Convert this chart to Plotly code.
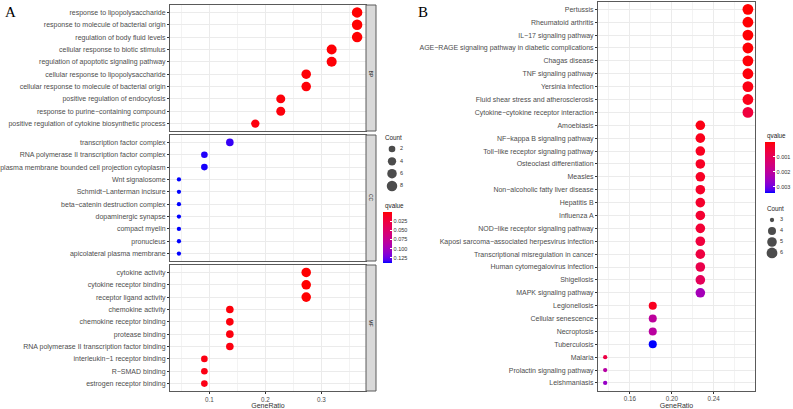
import math
import plotly.graph_objects as go

W, H = 793, 409

# ---------------- Panel A : GO enrichment (facets BP / CC / MF) ----------------
bp_terms = [
    "response to lipopolysaccharide",
    "response to molecule of bacterial origin",
    "regulation of body fluid levels",
    "cellular response to biotic stimulus",
    "regulation of apoptotic signaling pathway",
    "cellular response to lipopolysaccharide",
    "cellular response to molecule of bacterial origin",
    "positive regulation of endocytosis",
    "response to purine\u2212containing compound",
    "positive regulation of cytokine biosynthetic process",
]
bp_ratio = ["8/22", "8/22", "8/22", "7/22", "7/22", "6/22", "6/22", "5/22", "5/22", "4/22"]
bp_q = [0.0002, 0.0003, 0.0010, 0.0015, 0.0020, 0.0020, 0.0025, 0.0030, 0.0035, 0.0040]

cc_terms = [
    "transcription factor complex",
    "RNA polymerase II transcription factor complex",
    "plasma membrane bounded cell projection cytoplasm",
    "Wnt signalosome",
    "Schmidt\u2212Lanterman incisure",
    "beta\u2212catenin destruction complex",
    "dopaminergic synapse",
    "compact myelin",
    "pronucleus",
    "apicolateral plasma membrane",
]
cc_ratio = ["3/22", "2/22", "2/22", "1/22", "1/22", "1/22", "1/22", "1/22", "1/22", "1/22"]
cc_q = [0.134, 0.136, 0.137, 0.139, 0.139, 0.139, 0.139, 0.139, 0.139, 0.139]

mf_terms = [
    "cytokine activity",
    "cytokine receptor binding",
    "receptor ligand activity",
    "chemokine activity",
    "chemokine receptor binding",
    "protease binding",
    "RNA polymerase II transcription factor binding",
    "interleukin\u22121 receptor binding",
    "R\u2212SMAD binding",
    "estrogen receptor binding",
]
mf_ratio = ["6/22", "6/22", "6/22", "3/22", "3/22", "3/22", "3/22", "2/22", "2/22", "2/22"]
mf_q = [0.0005, 0.0006, 0.0008, 0.0030, 0.0035, 0.0040, 0.0045, 0.0050, 0.0055, 0.0060]

facet_labels = ["BP", "CC", "MF"]
a_size_breaks = [2, 4, 6, 8]
a_q_ticks = [0.025, 0.050, 0.075, 0.100, 0.125]
a_x_ticks = [0.1, 0.2, 0.3]
a_x_minor = [0.05, 0.15, 0.25, 0.35]

# ---------------- Panel B : KEGG enrichment ----------------
kegg_terms = [
    "Pertussis",
    "Rheumatoid arthritis",
    "IL\u221217 signaling pathway",
    "AGE\u2212RAGE signaling pathway in diabetic complications",
    "Chagas disease",
    "TNF signaling pathway",
    "Yersinia infection",
    "Fluid shear stress and atherosclerosis",
    "Cytokine\u2212cytokine receptor interaction",
    "Amoebiasis",
    "NF\u2212kappa B signaling pathway",
    "Toll\u2212like receptor signaling pathway",
    "Osteoclast differentiation",
    "Measles",
    "Non\u2212alcoholic fatty liver disease",
    "Hepatitis B",
    "Influenza A",
    "NOD\u2212like receptor signaling pathway",
    "Kaposi sarcoma\u2212associated herpesvirus infection",
    "Transcriptional misregulation in cancer",
    "Human cytomegalovirus infection",
    "Shigellosis",
    "MAPK signaling pathway",
    "Legionellosis",
    "Cellular senescence",
    "Necroptosis",
    "Tuberculosis",
    "Malaria",
    "Prolactin signaling pathway",
    "Leishmaniasis",
]
kegg_ratio = ["6/22"] * 9 + ["5/22"] * 14 + ["4/22"] * 4 + ["3/22"] * 3
kegg_q = [0.00002, 0.00003, 0.00004, 0.00005, 0.00007, 0.00009, 0.00015, 0.00020, 0.00060,
          0.00015, 0.00020, 0.00025, 0.00030, 0.00030, 0.00035, 0.00040, 0.00045, 0.00050,
          0.00060, 0.00065, 0.00080, 0.00100, 0.00240,
          0.00025, 0.00200, 0.00205, 0.00340,
          0.00070, 0.00210, 0.00260]
b_size_breaks = [3, 4, 5, 6]
b_q_ticks = [0.001, 0.002, 0.003]
b_x_ticks = [0.16, 0.20, 0.24]
b_x_minor = [0.14, 0.18, 0.22, 0.26]


# ---------------- helpers ----------------
def px(x):
    return x / W


def py(y):
    return 1 - y / H


def parse(ratios):
    vals, counts = [], []
    for r in ratios:
        n, d = r.split("/")
        vals.append(int(n) / int(d))
        counts.append(int(n))
    return vals, counts


def area_pal(c, cmin, cmax, smin, smax):
    return smin + (smax - smin) * math.sqrt((c - cmin) / (cmax - cmin))


def _lin(c):
    c = c / 255
    return c / 12.92 if c <= 0.04045 else ((c + 0.055) / 1.055) ** 2.4


def _gam(c):
    c = 12.92 * c if c <= 0.0031308 else 1.055 * c ** (1 / 2.4) - 0.055
    return max(0, min(255, round(c * 255)))


def to_lab(rgb):
    r, g, b = [_lin(v) for v in rgb]
    X = (0.4124 * r + 0.3576 * g + 0.1805 * b) / 0.95047
    Y = (0.2126 * r + 0.7152 * g + 0.0722 * b)
    Z = (0.0193 * r + 0.1192 * g + 0.9505 * b) / 1.08883
    f = lambda t: t ** (1 / 3) if t > 0.008856 else 7.787 * t + 16 / 116
    return (116 * f(Y) - 16, 500 * (f(X) - f(Y)), 200 * (f(Y) - f(Z)))


def from_lab(lab):
    L, a, b = lab
    fy = (L + 16) / 116
    fx = fy + a / 500
    fz = fy - b / 200
    finv = lambda t: t ** 3 if t ** 3 > 0.008856 else (t - 16 / 116) / 7.787
    X, Y, Z = finv(fx) * 0.95047, finv(fy), finv(fz) * 1.08883
    r = 3.2406 * X - 1.5372 * Y - 0.4986 * Z
    g = -0.9689 * X + 1.8758 * Y + 0.0415 * Z
    bb = 0.0557 * X - 0.2040 * Y + 1.0570 * Z
    return "rgb(%d,%d,%d)" % (_gam(max(r, 0)), _gam(max(g, 0)), _gam(max(bb, 0)))


lab_blue, lab_red = to_lab((0, 0, 255)), to_lab((255, 0, 0))
colorscale = []
for i in range(21):
    t = i / 20
    lab = tuple(lab_blue[k] + (lab_red[k] - lab_blue[k]) * t for k in range(3))
    colorscale.append([t, from_lab(lab)])

FONT = "Arial, Liberation Sans, sans-serif"
TICKCOL = "#4D4D4D"
GRID = "#EBEBEB"
MINOR = "#F3F3F3"
BORDER = "#5A5A5A"
LABSZ = 7.0

fig = go.Figure()

# ---------------- Panel A traces ----------------
a_all_counts = parse(bp_ratio)[1] + parse(cc_ratio)[1] + parse(mf_ratio)[1]
a_cmin, a_cmax = min(a_all_counts), max(a_all_counts)
a_all_q = bp_q + cc_q + mf_q
facets = [(bp_terms, bp_ratio, bp_q), (cc_terms, cc_ratio, cc_q), (mf_terms, mf_ratio, mf_q)]
domains_y = [[py(131), py(5)], [py(261), py(135)], [py(391), py(265)]]
A_X = [px(170), px(366)]
a_range = [0.0295, 0.3795]

for i, (terms, ratio, q) in enumerate(facets):
    x, cnt = parse(ratio)
    sfx = "" if i == 0 else str(i + 1)
    fig.add_trace(go.Scatter(
        x=x, y=terms, mode="markers", xaxis="x" + sfx, yaxis="y" + sfx,
        marker=dict(size=[area_pal(c, a_cmin, a_cmax, 4.3, 10.5) for c in cnt],
                    color=[-v for v in q], coloraxis="coloraxis", line=dict(width=0), opacity=1),
        showlegend=False, hoverinfo="x+y"))
    bottom = (i == 2)
    fig.layout["xaxis" + sfx] = dict(
        domain=A_X, range=a_range, anchor="y" + sfx, showline=True, mirror=True,
        linecolor=BORDER, linewidth=1, showgrid=True, gridcolor=GRID, gridwidth=1, zeroline=False,
        tickmode="array", tickvals=a_x_ticks, ticktext=["0.1", "0.2", "0.3"],
        showticklabels=bottom, ticks="outside" if bottom else "", ticklen=2, tickcolor="#333333",
        tickfont=dict(family=FONT, size=6.3, color=TICKCOL),
        minor=dict(tickvals=a_x_minor, showgrid=True, gridcolor=MINOR, gridwidth=0.6, ticks=""),
        title=dict(text="GeneRatio" if bottom else "", font=dict(family=FONT, size=7, color="#333333"), standoff=1),
        fixedrange=True)
    fig.layout["yaxis" + sfx] = dict(
        domain=domains_y[i], anchor="x" + sfx, type="category", categoryorder="array",
        categoryarray=terms, range=[len(terms) - 1 + 0.6, -0.6], showline=True, mirror=True,
        linecolor=BORDER, linewidth=1, showgrid=True, gridcolor=GRID, gridwidth=1, zeroline=False,
        tickmode="array", tickvals=terms, ticks="outside", ticklen=2, tickcolor="#333333",
        tickfont=dict(family=FONT, size=LABSZ, color=TICKCOL), fixedrange=True)

# ---------------- Panel B trace ----------------
bx, bcnt = parse(kegg_ratio)
b_cmin, b_cmax = min(bcnt), max(bcnt)
fig.add_trace(go.Scatter(
    x=bx, y=kegg_terms, mode="markers", xaxis="x4", yaxis="y4",
    marker=dict(size=[area_pal(c, b_cmin, b_cmax, 4.3, 10.8) for c in bcnt],
                color=[-v for v in kegg_q], coloraxis="coloraxis2", line=dict(width=0), opacity=1),
    showlegend=False, hoverinfo="x+y"))
fig.layout["xaxis4"] = dict(
    domain=[px(598), px(755)], range=[0.1295, 0.2795], anchor="y4", showline=True, mirror=True,
    linecolor=BORDER, linewidth=1, showgrid=True, gridcolor=GRID, gridwidth=1, zeroline=False,
    tickmode="array", tickvals=b_x_ticks, ticktext=["0.16", "0.20", "0.24"],
    ticks="outside", ticklen=2, tickcolor="#333333",
    tickfont=dict(family=FONT, size=6.3, color=TICKCOL),
    minor=dict(tickvals=b_x_minor, showgrid=True, gridcolor=MINOR, gridwidth=0.6, ticks=""),
    title=dict(text="GeneRatio", font=dict(family=FONT, size=7, color="#333333"), standoff=1),
    fixedrange=True)
fig.layout["yaxis4"] = dict(
    domain=[py(390.7), py(1.6)], anchor="x4", type="category", categoryorder="array",
    categoryarray=kegg_terms, range=[len(kegg_terms) - 1 + 0.6, -0.6], showline=True, mirror=True,
    linecolor=BORDER, linewidth=1, showgrid=True, gridcolor=GRID, gridwidth=1, zeroline=False,
    tickmode="array", tickvals=kegg_terms, ticks="outside", ticklen=2, tickcolor="#333333",
    tickfont=dict(family=FONT, size=LABSZ, color=TICKCOL), fixedrange=True)


# ---------------- Size legends (hidden axes) ----------------
def size_legend(breaks, cmin, cmax, smin, smax, xa, ya, xdom, ydom, yrange):
    fig.add_trace(go.Scatter(
        x=[9] * len(breaks), y=breaks, mode="markers", xaxis=xa, yaxis=ya,
        marker=dict(size=[area_pal(c, cmin, cmax, smin, smax) for c in breaks], color="black",
                    line=dict(width=0)), showlegend=False, hoverinfo="skip"))
    fig.add_trace(go.Scatter(
        x=[17] * len(breaks), y=breaks, mode="text", text=[str(b) for b in breaks],
        textposition="middle right", xaxis=xa, yaxis=ya,
        textfont=dict(family=FONT, size=5.5, color="#333333"), showlegend=False, hoverinfo="skip"))
    fig.layout["xaxis" + xa[1:]] = dict(domain=xdom, range=[0, 30], visible=False, fixedrange=True,
                                         anchor=ya)
    fig.layout["yaxis" + ya[1:]] = dict(domain=ydom, range=yrange, visible=False, fixedrange=True,
                                         anchor=xa)


size_legend(a_size_breaks, a_cmin, a_cmax, 4.3, 10.5, "x5", "y5",
            [px(383), px(413)], [py(192.2), py(142.8)], [9, 1])
size_legend(b_size_breaks, b_cmin, b_cmax, 4.3, 10.8, "x6", "y6",
            [px(763), px(793)], [py(258.5), py(214.5)], [6.5, 2.5])

# ---------------- Colour axes ----------------
fig.update_layout(
    coloraxis=dict(
        cmin=-max(a_all_q), cmax=-min(a_all_q), colorscale=colorscale,
        colorbar=dict(x=px(383), xanchor="left", xpad=0, y=py(212), yanchor="top", ypad=0,
                      len=51, lenmode="pixels", thickness=9, thicknessmode="pixels",
                      outlinewidth=0, tickmode="array", tickvals=[-v for v in a_q_ticks],
                      ticktext=["%.3f" % v for v in a_q_ticks], ticks="inside", ticklen=2,
                      tickcolor="white", tickfont=dict(family=FONT, size=5.5, color="#333333"))),
    coloraxis2=dict(
        cmin=-max(kegg_q), cmax=-min(kegg_q), colorscale=colorscale,
        colorbar=dict(x=px(765), xanchor="left", xpad=0, y=py(142), yanchor="top", ypad=0,
                      len=51, lenmode="pixels", thickness=10, thicknessmode="pixels",
                      outlinewidth=0, tickmode="array", tickvals=[-v for v in b_q_ticks],
                      ticktext=["%.3f" % v for v in b_q_ticks], ticks="inside", ticklen=2,
                      tickcolor="white", tickfont=dict(family=FONT, size=5.5, color="#333333"))),
)

# ---------------- Strips, titles, panel letters ----------------
shapes = []
annotations = []
for i, lab in enumerate(facet_labels):
    y0, y1 = domains_y[i]
    shapes.append(dict(type="rect", xref="paper", yref="paper", x0=px(366), x1=px(376),
                       y0=y0, y1=y1, fillcolor="#D9D9D9", line=dict(color=BORDER, width=1)))
    annotations.append(dict(xref="paper", yref="paper", x=px(371), y=(y0 + y1) / 2, text=lab,
                            showarrow=False, textangle=90,
                            font=dict(family=FONT, size=5, color="#1A1A1A")))

for txt, x, y in [("Count", 383, 137), ("qvalue", 383, 206), ("qvalue", 765, 136), ("Count", 765, 208)]:
    annotations.append(dict(xref="paper", yref="paper", x=px(x), y=py(y), xanchor="left",
                            yanchor="middle", text=txt, showarrow=False,
                            font=dict(family=FONT, size=6.3, color="#1A1A1A")))

for txt, x in [("A", 3), ("B", 416)]:
    annotations.append(dict(xref="paper", yref="paper", x=px(x), y=py(12), xanchor="left",
                            yanchor="middle", text=txt, showarrow=False,
                            font=dict(family="Liberation Serif, Times New Roman, serif", size=15,
                                      color="black")))

fig.update_layout(
    width=W, height=H, autosize=False,
    margin=dict(l=0, r=0, t=0, b=0, pad=0),
    paper_bgcolor="white", plot_bgcolor="white",
    showlegend=False, shapes=shapes, annotations=annotations,
    font=dict(family=FONT),
)

fig.write_html("out.html", config={"displayModeBar": False},
               post_script="document.body.style.margin='0';")
